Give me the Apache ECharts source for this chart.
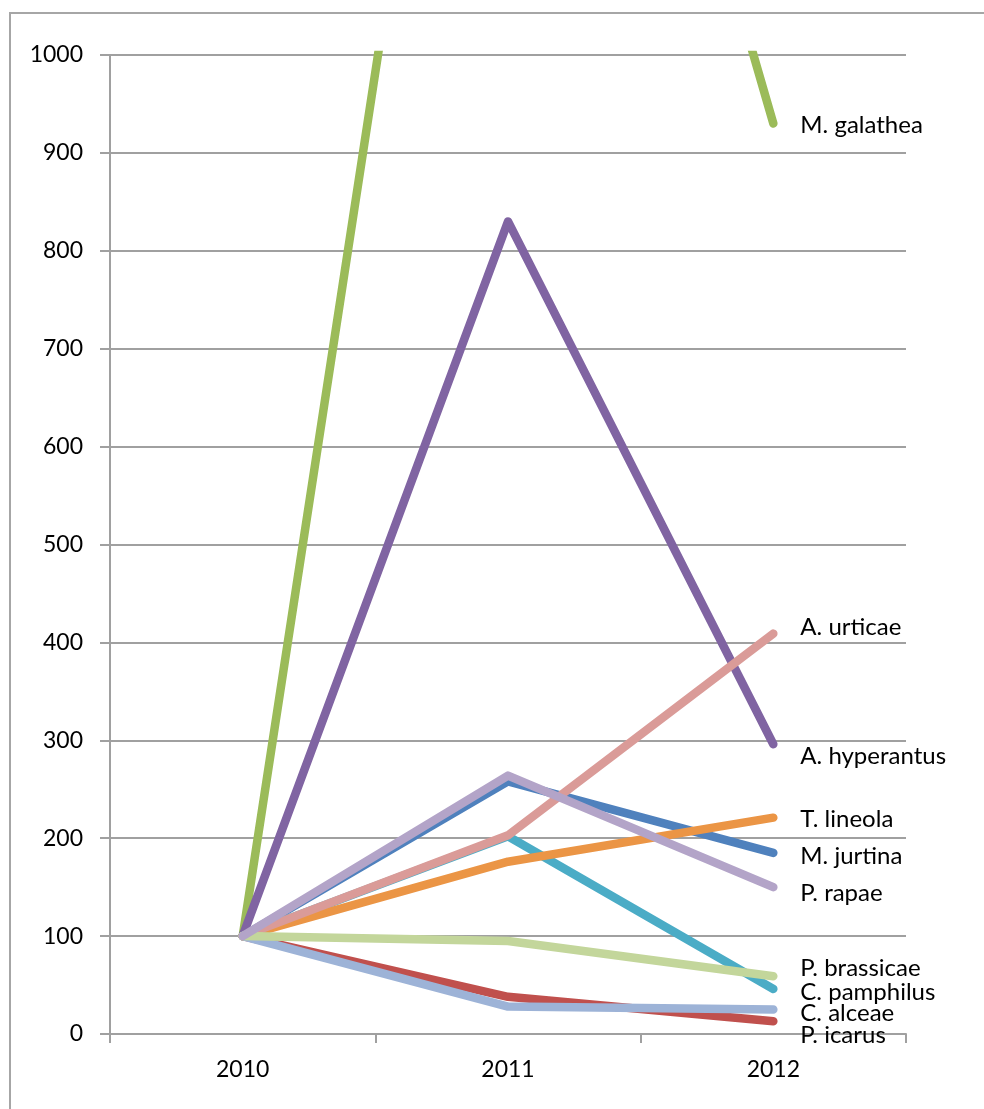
<!DOCTYPE html>
<html>
<head>
<meta charset="utf-8">
<script src="https://cdn.jsdelivr.net/npm/echarts@6/dist/echarts.min.js"></script>
<style>
html,body{margin:0;padding:0;background:#fff;}
#chart{width:984px;height:1109px;}
</style>
</head>
<body>
<div id="chart"></div>
<script>
var categories = ['2010', '2011', '2012'];
var yTicks = [0, 100, 200, 300, 400, 500, 600, 700, 800, 900, 1000];

var seriesNames = ['M. jurtina', 'P. icarus', 'M. galathea', 'A. hyperantus', 'C. pamphilus',
                   'T. lineola', 'C. alceae', 'A. urticae', 'P. brassicae', 'P. rapae'];
var mJurtina    = [100, 258, 185];
var pIcarus     = [100, 38, 13];
var mGalathea   = [100, 1865, 930];
var aHyperantus = [100, 830, 296];
var cPamphilus  = [100, 202, 46];
var tLineola    = [100, 176, 221];
var cAlceae     = [100, 28, 25];
var aUrticae    = [100, 203, 409];
var pBrassicae  = [100, 95, 59];
var pRapae      = [100, 264, 150];
var seriesValues = [mJurtina, pIcarus, mGalathea, aHyperantus, cPamphilus,
                    tLineola, cAlceae, aUrticae, pBrassicae, pRapae];

var colors = ['#4F81BD', '#C0504D', '#9BBB59', '#8064A2', '#4BACC6',
              '#EB9545', '#9DB3D7', '#DA9B98', '#C3D69B', '#B3A4C8'];
var labelDy = [3, 14, 2, 12, 3, 2, 4, -6, -8, 6];

var FONT = 'Lato';
var chart = echarts.init(document.getElementById('chart'));
var series = seriesNames.map(function (name, i) {
  return {
    name: name,
    type: 'line',
    data: seriesValues[i],
    symbol: 'none',
    clip: true,
    z: 2 + i,
    lineStyle: { color: colors[i], width: 8.5, cap: 'round', join: 'round' },
    itemStyle: { color: colors[i] },
    endLabel: {
      show: true,
      formatter: '{a}',
      position: 'right',
      distance: 27,
      offset: [0, labelDy[i]],
      color: '#000',
      fontFamily: FONT,
      fontSize: 24
    }
  };
});

chart.setOption({
  animation: false,
  backgroundColor: '#fff',
  graphic: [{
    type: 'rect',
    shape: { x: 10, y: 13, width: 2000, height: 2000 },
    style: { fill: 'none', stroke: '#a6a6a6', lineWidth: 2 },
    silent: true
  }],
  grid: { left: 110, right: 78, top: 55, bottom: 75 },
  xAxis: {
    type: 'category',
    data: categories,
    boundaryGap: true,
    axisLine: { lineStyle: { color: '#a0a0a0', width: 2 } },
    axisTick: { show: true, length: 9, lineStyle: { color: '#a0a0a0', width: 2 } },
    axisLabel: { color: '#000', fontFamily: FONT, fontSize: 23, margin: 24 },
    splitLine: { show: false }
  },
  yAxis: {
    type: 'value',
    min: yTicks[0],
    max: yTicks[yTicks.length - 1],
    interval: 100,
    axisLine: { show: true, lineStyle: { color: '#a0a0a0', width: 2 } },
    axisTick: { show: true, length: 10, lineStyle: { color: '#a0a0a0', width: 2 } },
    axisLabel: {
      color: '#000', fontFamily: FONT, fontSize: 23, margin: 27,
      formatter: function (v) { return String(v); }
    },
    splitLine: { show: true, lineStyle: { color: '#a0a0a0', width: 2 } }
  },
  series: series
});
</script>
</body>
</html>
